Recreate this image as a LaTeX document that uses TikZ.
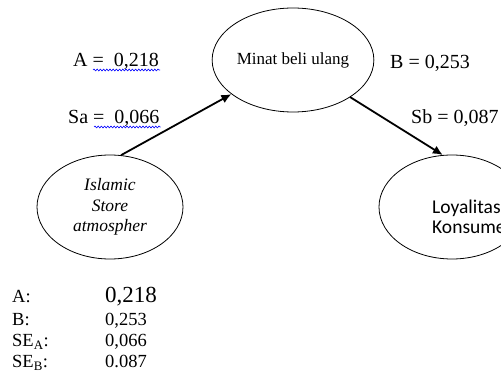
\documentclass[tikz,border=0pt]{standalone}
\usepackage{fontspec}
\setmainfont{Liberation Serif}
\newfontfamily\calibrifont{Carlito}
\usetikzlibrary{arrows.meta}
\usetikzlibrary{calc}
\usetikzlibrary{shapes.geometric, decorations.pathmorphing}

\begin{document}
\begin{tikzpicture}[
			x=1pt, y=1pt,
			every node/.style={inner sep=1pt},
			konstruk/.style={ellipse, draw, line width=0.8pt, minimum width=146pt, minimum height=104pt},
			jalur/.style={line width=1.8pt, -{Latex[length=10pt, width=9pt]}},
			koef/.style={font=\fontsize{20}{20}\selectfont, anchor=base west},
			tabel/.style={font=\fontsize{18.5}{18.5}\selectfont, anchor=base west},
			wavy/.style={blue, line width=0.6pt, decorate, decoration={snake, amplitude=0.9pt, segment length=3.2pt}}
		]

		% canvas
		\useasboundingbox (0,0) rectangle (501,391);
		\clip (0,0) rectangle (501,391);

		% three constructs
		\node[konstruk, font=\fontsize{17}{17}\selectfont] (minat) at (293,331) {Minat beli ulang};
		\node[konstruk, align=center, font=\itshape\fontsize{17.5}{20.5}\selectfont] (isl) at (110,184) {Islamic\\Store\\atmospher};
		\node[konstruk] (loy) at (452,184) {};
		\node[anchor=base west, align=left, font=\calibrifont\fontsize{19.5}{20}\selectfont] (loytxt) at (431,157) {Loyalitas\\Konsumen};

		% paths
		\draw[jalur] (isl.78) -- (minat.209);
		\draw[jalur] (minat.327) -- (loy.100);

		% coefficients
		\node[koef] (alab) at (72,324) {A = \ 0,218};
		\node[koef] (salab) at (67,267) {Sa = \ 0,066};
		\node[koef] (blab) at (389,322) {B = 0,253};
		\node[koef] (sblab) at (410,267) {Sb = 0,087};

		% spelling marks
		\draw[wavy] ($(alab.base west)+(21,-3)$) -- ($(alab.base east)+(0,-3)$);
		\draw[wavy] ($(salab.base west)+(27,-3)$) -- ($(salab.base east)+(0,-3)$);

		% summary
		\node[tabel] (ta) at (11,88) {A:};
		\node[tabel, font=\fontsize{23}{23}\selectfont] (va) at (104,88) {0,218};
		\node[tabel] (tb) at (11,65) {B:};
		\node[tabel] (vb) at (104,65) {0,253};
		\node[tabel] (tsa) at (11,44) {SE\textsubscript{A}:};
		\node[tabel] (vsa) at (104,44) {0,066};
		\node[tabel] (tsb) at (11,23) {SE\textsubscript{B}:};
		\node[tabel] (vsb) at (104,23) {0.087};

	\end{tikzpicture}
\end{document}
